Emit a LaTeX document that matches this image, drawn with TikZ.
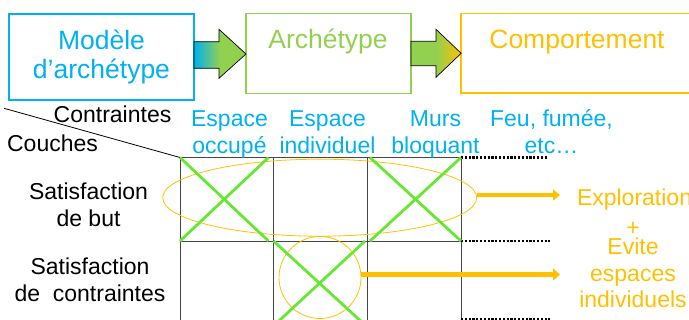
\documentclass[tikz,border=0pt]{standalone}
\usepackage{fontspec}
\setmainfont{Liberation Sans}
\usetikzlibrary{arrows.meta,shapes.geometric}
\definecolor{cblue}{HTML}{00B0F0}
\definecolor{cgreen}{HTML}{92D050}
\definecolor{corange}{HTML}{FFC000}
\definecolor{xgreen}{RGB}{102,232,51}
\definecolor{gridc}{RGB}{70,70,70}
\newcommand\twol[2]{\begin{tabular}[t]{@{}c@{}}#1\\#2\end{tabular}}
\newcommand\threel[3]{\begin{tabular}[t]{@{}c@{}}#1\\#2\\#3\end{tabular}}
\begin{document}
\begin{tikzpicture}[x=1pt,y=-1pt,
  lbl/.style={inner sep=0pt, outer sep=0pt, anchor=base, font=\fontsize{23}{26.5}\selectfont},
  boxlbl/.style={lbl, font=\fontsize{26.5}{29}\selectfont},
  bluet/.style={lbl, text=cblue},
  oranget/.style={lbl, text=corange},
  box/.style={draw, inner sep=0pt, outer sep=0pt, line width=1.7pt},
  cell/.style={draw=gridc, line width=0.9pt, inner sep=0pt, outer sep=0pt, minimum height=83.5pt},
  xline/.style={draw=xgreen, line width=2.8pt},
  oring/.style={draw=corange, line width=0.8pt, inner sep=0pt, outer sep=0pt},
  oarrow/.style={draw=corange},
  dotline/.style={draw=black, line width=2.4pt, dash pattern=on 2.2pt off 1.6pt},
  blockarr/.style={draw=black, line width=0.7pt}
]
\useasboundingbox (0,0) rectangle (689,320);

% top boxes
\node[box, draw=cblue, line width=2pt, minimum width=185pt, minimum height=85.4pt] (m1) at (101.5,57) {};
\node[box, draw=cgreen, minimum width=165pt, minimum height=80pt] (m2) at (328.5,53.5) {};
\node[box, draw=corange, minimum width=231.7pt, minimum height=79.8pt] (m3) at (577,53.4) {};

\node[boxlbl, text=cblue] (m1t) at (101.5,50) {\twol{Modèle}{d’archétype}};
\node[boxlbl, text=cgreen] (m2t) at (328,49) {Archétype};
\node[boxlbl, text=corange] (m3t) at (577,49) {Comportement};

% block arrows
\path[blockarr, left color=cblue, right color=cgreen, middle color=cgreen]
  (m1.east |- 0,41.7) -- (219,41.7) -- (219,29.3) -- (m2.west |- 0,54)
  -- (219,78.3) -- (219,68.3) -- (m1.east |- 0,68.3) -- cycle;
\path[blockarr, left color=cgreen, right color=corange, middle color=cgreen]
  (m2.east |- 0,41.3) -- (436,41.3) -- (436,29.3) -- (m3.west |- 0,53.3)
  -- (436,77.3) -- (436,65.7) -- (m2.east |- 0,65.7) -- cycle;

% table cells
\node[cell, minimum width=93.5pt] (c11) at (226.75,199.25) {};
\node[cell, minimum width=93.5pt] (c12) at (320.25,199.25) {};
\node[cell, minimum width=94pt]   (c13) at (414,199.25) {};
\node[cell, minimum width=93.5pt, minimum height=84pt] (c21) at (226.75,283) {};
\node[cell, minimum width=93.5pt, minimum height=84pt] (c22) at (320.25,283) {};
\node[cell, minimum width=94pt, minimum height=84pt]   (c23) at (414,283) {};

% diagonal header line
\coordinate (dg) at (4,108.3);
\draw[black, line width=0.8pt] (dg) -- (c11.north west);

% dotted continuations
\coordinate (d1) at (548,157.5);
\coordinate (d2) at (550,241);
\coordinate (d3s) at (461,319);
\coordinate (d3) at (550,319);
\draw[dotline] (c13.north east) -- (d1);
\draw[dotline] (c23.north east) -- (d2);
\draw[dotline] (d3s) -- (d3);

% orange ellipse and circle
\node[oring, ellipse, minimum width=314pt, minimum height=77pt] (e1) at (319.7,197.7) {};
\node[oring, circle, minimum size=82pt] (c2) at (320,277.5) {};

% green crosses
\draw[xline] (c11.north west) -- ([xshift=-5pt]c11.south east);
\draw[xline] ([xshift=-5pt]c11.north east) -- (c11.south west);
\draw[xline] ([xshift=3pt]c13.north west) -- (c13.south east);
\draw[xline] (c13.north east) -- ([xshift=3pt]c13.south west);
\draw[xline] (c22.north west) -- ([xshift=-2pt]c22.south east);
\draw[xline] ([xshift=-2pt]c22.north east) -- ([xshift=1pt]c22.south west);

% orange arrows
\coordinate (a1end) at (560,195);
\coordinate (a2end) at (560,274.5);
\draw[oarrow, line width=4pt, -{Triangle[length=7pt,width=11pt]}] ([yshift=2.7pt]e1.east) -- (a1end);
\draw[oarrow, line width=5.5pt, -{Triangle[length=7pt,width=12pt]}] ([yshift=3pt]c2.east) -- (a2end);

% header labels
\node[lbl] (hc) at (112.5,122.7) {Contraintes};
\node[lbl] (hl) at (52.5,151.7) {Couches};
\node[lbl] (r1) at (88.5,200) {\twol{Satisfaction}{de but}};
\node[lbl] (r2) at (90,275) {\twol{Satisfaction}{de~ contraintes}};

\node[bluet] (k1) at (229.5,126.7) {\twol{Espace}{occupé}};
\node[bluet] (k2) at (327.5,126.7) {\twol{Espace}{individuel}};
\node[bluet] (k3) at (435.5,126.7) {\twol{Murs}{bloquant}};
\node[bluet] (k4) at (551.5,126.7) {\twol{Feu, fumée,}{etc…}};

% results
\node[oranget, anchor=base west] (o1) at (577,206) {Exploration};
\node[oranget] (o2) at (633,236) {+};
\node[oranget] (o3) at (633,255) {\threel{Evite}{espaces}{individuels}};
\end{tikzpicture}
\end{document}
